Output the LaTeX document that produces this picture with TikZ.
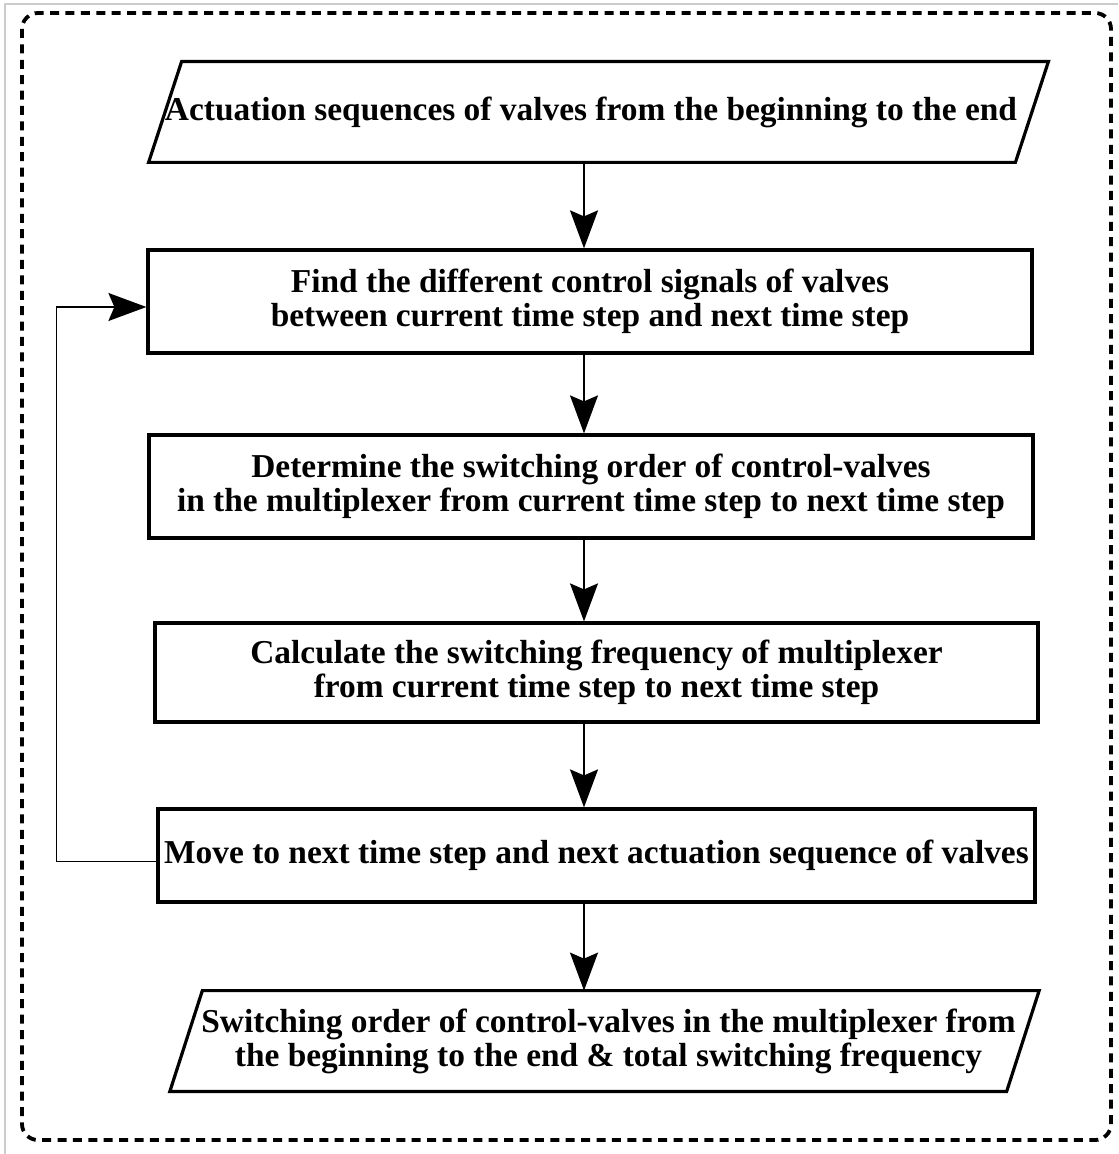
\documentclass[tikz,border=0pt]{standalone}
\usepackage{fontspec}
\setmainfont{Liberation Serif}
\usetikzlibrary{arrows.meta,positioning,calc}
\tikzset{
  paso/.style={rectangle, draw, line width=1.6pt, align=center,
               font=\bfseries\fontsize{16.7}{17}\selectfont, inner sep=2pt},
  datos/.style={rectangle, align=center,
                font=\bfseries\fontsize{16.7}{17}\selectfont, inner sep=2pt},
  borde/.style={line width=1.6pt, line join=miter},
  flecha/.style={-{Stealth[length=19pt,width=14pt,inset=3pt]}, line width=1pt},
  marco/.style={dash pattern=on 4.5pt off 3.2pt, line width=1.9pt, rounded corners=8pt}
}

\begin{document}
\begin{tikzpicture}[x=0.5pt,y=-0.5pt]
\useasboundingbox (0,0) rectangle (1118,1154);
\draw[black!20, line width=1pt] (5,1154) -- (5,4) -- (1118,4);
\draw[marco] (22,13) rectangle (1111,1140);

\node[datos, minimum width=433pt, minimum height=50pt] (ent) at (591,112)
  {Actuation sequences of valves from the beginning to the end};
\draw[borde] ($(ent.north west)+(24,0)$) -- ($(ent.north east)+(24,0)$)
  -- ($(ent.south east)+(-9,0)$) -- ($(ent.south west)+(-9,0)$) -- cycle;

\node[paso, minimum width=442pt, minimum height=51.5pt] (dif) at (590,301.5)
  {Find the different control signals of valves\\
   between current time step and next time step};

\node[paso, minimum width=442pt, minimum height=51.5pt] (orden) at (591,486.5)
  {Determine the switching order of control-valves\\
   in the multiplexer from current time step to next time step};

\node[paso, minimum width=441.5pt, minimum height=49.5pt] (frec) at (596.5,672.5)
  {Calculate the switching frequency of multiplexer\\
   from current time step to next time step};

\node[paso, minimum width=438.5pt, minimum height=46.5pt] (mov) at (596.5,855.5)
  {Move to next time step and next actuation sequence of valves};

\node[datos, minimum width=418pt, minimum height=50pt] (sal) at (608.5,1041)
  {Switching order of control-valves in the multiplexer from\\
   the beginning to the end \& total switching frequency};
\draw[borde] ($(sal.north west)+(12.25,0)$) -- ($(sal.north east)+(12.25,0)$)
  -- ($(sal.south east)+(-20.25,0)$) -- ($(sal.south west)+(-20.25,0)$) -- cycle;

\coordinate (eje) at (584,0);
\draw[flecha] (ent.south -| eje) -- (dif.north -| eje);
\draw[flecha] (dif.south -| eje) -- (orden.north -| eje);
\draw[flecha] (orden.south -| eje) -- (frec.north -| eje);
\draw[flecha] (frec.south -| eje) -- (mov.north -| eje);
\draw[flecha] (mov.south -| eje) -- (sal.north -| eje);

\draw[flecha, line width=0.75pt] ([yshift=-3pt]mov.west) -- ++(-100,0)
  |- ([yshift=-2.75pt]dif.west);
\end{tikzpicture}
\end{document}
